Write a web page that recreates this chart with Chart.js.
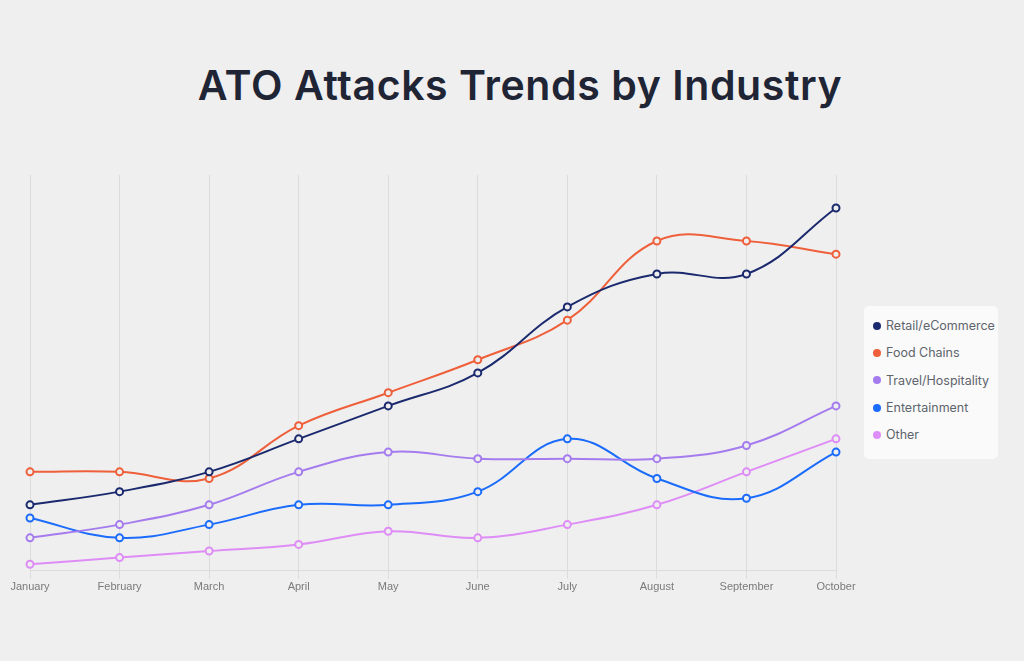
<!DOCTYPE html>
<html lang="en">
<head>
  <meta charset="UTF-8">
  <title>ATO Attacks Trends by Industry</title>
  <script src="https://cdn.jsdelivr.net/npm/chart.js"></script>
  <style>
    body { margin: 0; background: #efefef; width: 1024px; height: 661px; overflow: hidden; position: relative; }
    h1 { position: absolute; top: 60px; left: 0; width: 1040px; margin: 0; text-align: center;
         font: 600 41px Inter, "Noto Sans", sans-serif; color: #1f2535; letter-spacing: 0.6px; }
    #wrap { position: absolute; left: 0; top: 0; width: 1024px; height: 661px; }
    #legend { position: absolute; left: 864px; top: 306px; width: 134px; height: 153px; background: #fafafa;
              border-radius: 5px; box-sizing: border-box; padding-top: 6px; }
    .item { height: 27.3px; display: flex; align-items: center; padding-left: 9px;
            font: 12.5px Inter, "Noto Sans", sans-serif; color: #60646c; }
    .dot { width: 8px; height: 8px; border-radius: 50%; margin-right: 5px; }
  </style>
</head>
<body>
  <h1>ATO Attacks Trends by Industry</h1>
  <div id="wrap"><canvas id="chart"></canvas></div>
  <div id="legend"></div>

  <script>
    const months = ['January', 'February', 'March', 'April', 'May', 'June', 'July', 'August', 'September', 'October'];
    const retail = [10, 12, 15, 20, 25, 30, 40, 45, 45, 55];
    const food = [15, 15, 14, 22, 27, 32, 38, 50, 50, 48];
    const travel = [5, 7, 10, 15, 18, 17, 17, 17, 19, 25];
    const entertainment = [8, 5, 7, 10, 10, 12, 20, 14, 11, 18];
    const other = [1, 2, 3, 4, 6, 5, 7, 10, 15, 20];

    const series = [
      { label: 'Retail/eCommerce', data: retail, color: '#1b2a6e' },
      { label: 'Food Chains', data: food, color: '#ee5f3a' },
      { label: 'Travel/Hospitality', data: travel, color: '#a57cee' },
      { label: 'Entertainment', data: entertainment, color: '#1c6cfc' },
      { label: 'Other', data: other, color: '#df8df6' }
    ];

    new Chart(document.getElementById('chart'), {
      type: 'line',
      data: {
        labels: months,
        datasets: series.map(s => ({
          label: s.label,
          data: s.data,
          borderColor: s.color,
          backgroundColor: '#eeeeee',
          pointBackgroundColor: '#eeeeee',
          pointBorderColor: s.color,
          pointBorderWidth: 2,
          pointRadius: 3.5,
          borderWidth: 2,
          tension: 0.4
        }))
      },
      options: {
        responsive: true,
        maintainAspectRatio: false,
        animation: false,
        layout: { padding: { top: 175, left: 30, right: 188, bottom: 65 } },
        plugins: { legend: { display: false }, tooltip: { enabled: false } },
        scales: {
          y: { display: false, min: 0, max: 60 },
          x: {
            grid: { color: '#dcdcdc', tickLength: 8 },
            border: { color: '#dcdcdc' },
            ticks: { color: '#7a7a7a', font: { family: 'Liberation Sans', size: 11 }, maxRotation: 0, padding: 2 }
          }
        }
      }
    });

    document.getElementById('legend').innerHTML = series.map(s =>
      `<div class="item"><span class="dot" style="background:${s.color}"></span>${s.label}</div>`
    ).join('');
  </script>
</body>
</html>
